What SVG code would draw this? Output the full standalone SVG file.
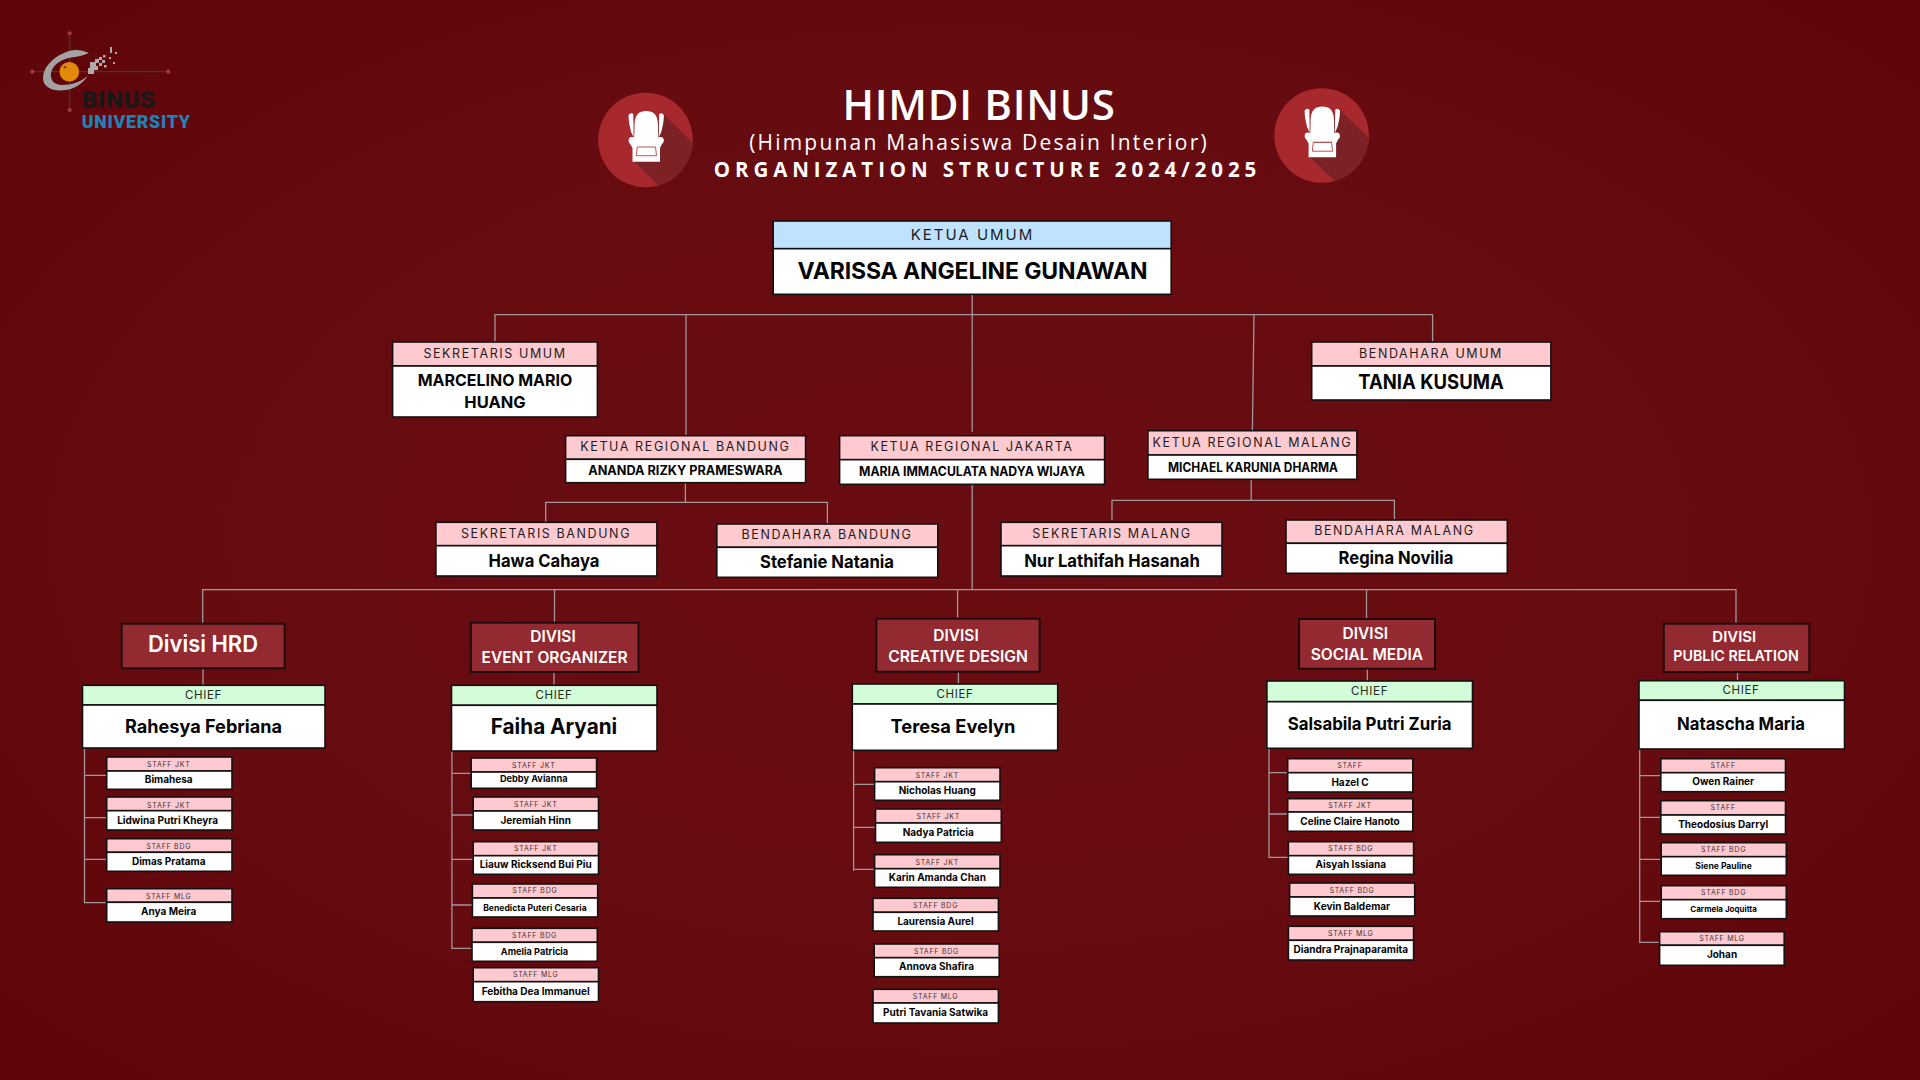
<svg xmlns="http://www.w3.org/2000/svg" width="1920" height="1080" viewBox="0 0 1920 1080">
<style>
text{font-family:Inter,"Noto Sans","Liberation Sans",sans-serif;text-anchor:middle}
.t{font-family:"Open Sans","Noto Sans",sans-serif;fill:#fff}
.h{stroke:#141010;stroke-width:1.6}
.p{fill:#ffc9d0}.g{fill:#d3fcd9}.b{fill:#bfe2ff}.w{fill:#fff}.d{fill:#942a31;stroke:#200a0c;stroke-width:2}
.l{fill:#1c1c1c;font-weight:400;font-size:12.5px;letter-spacing:1.6px}
.k{fill:#1c2a1c;font-weight:400;font-size:11.5px;letter-spacing:.7px}
.s{fill:#3c3032;font-weight:400;font-size:7px;letter-spacing:.75px}
.n{fill:#050505;font-weight:700}
.m{fill:#050505;font-weight:700;font-size:10px}
.v{fill:#fff;font-weight:600}
.c{fill:none;stroke:#a3979a;stroke-width:1.3}
.lg{font-family:Roboto,sans-serif;font-weight:900;text-anchor:start}
</style>
<defs>
<radialGradient id="bg" cx="50%" cy="50%" r="70%"><stop offset="0" stop-color="#690d12"/><stop offset=".6" stop-color="#660b10"/><stop offset="1" stop-color="#5e0509"/></radialGradient>
<clipPath id="cc"><circle r="47.3"/></clipPath>
<g id="seal">
<circle r="47.3" fill="#a7292e"/>
<polygon clip-path="url(#cc)" points="18,-26 72,27 72,72 40,72 -12,21" fill="#7c2226"/>
<g fill="#fff">
<path d="M-11,-14C-11,-26 -6,-29 .7,-29C7.5,-29 12.5,-26 12.5,-14C12.5,-6 13,0 13.5,6L-12,6C-11.5,0 -11,-6 -11,-14Z"/>
<path d="M-17,-25Q-14.5,-28 -12.3,-26Q-12,-20 -12,-10L-12,-3Q-15,-8 -16,-15Q-17,-20 -17,-25Z"/>
<path d="M18.4,-25Q15.9,-28 13.7,-26Q13.4,-20 13.4,-10L13.4,-3Q16.4,-8 17.4,-15Q18.4,-20 18.4,-25Z"/>
<circle cx="-13.5" cy=".5" r="3.4"/><circle cx="14.9" cy=".5" r="3.4"/>
<path d="M-16.5,2L-12,2L-10,6L11,6L13,2L17.5,2L14.5,8L14.5,21.7L-13,21.7L-13,8Z"/>
</g>
<path d="M-8.3,7L10,7L11,15.7L-9.3,15.7Z" fill="none" stroke="#a7292e" stroke-width=".8"/>
</g>
</defs>
<rect width="1920" height="1080" fill="url(#bg)"/>

<g id="logo">
<path d="M69.7,33.3V110M32.3,71.7H168.3" stroke="#4f3237" stroke-width="1.3" fill="none"/>
<g fill="#a23a3e"><circle cx="69.7" cy="33.3" r="2.1"/><circle cx="69.7" cy="110" r="2.1"/><circle cx="32.3" cy="71.7" r="2.1"/><circle cx="168.3" cy="71.7" r="2.1"/></g>
<path d="M89,53C80,49 72,49 64,53C52,58 43,68 43,78C43,88 54,92 66,90C74,89 82,84 88,76C80,82 72,85 62,85C54,85 50,80 51,73C53,63 64,58 75,57C80,56 85,55 89,53Z" fill="#a2a2a2"/>
<circle cx="69.3" cy="71.7" r="9.8" fill="#e38a0a"/><circle cx="65" cy="67.3" r="1.3" fill="#7a3a20"/>
<g fill="#b3a9aa"><rect x="88" y="68" width="6" height="6"/><rect x="90" y="62" width="6" height="6"/><rect x="94" y="66" width="4" height="4"/><rect x="95" y="59" width="4" height="4"/><rect x="99" y="63" width="3" height="3"/><rect x="99" y="57" width="3" height="3"/><rect x="102" y="60" width="3" height="3"/><rect x="103" y="55" width="2.5" height="2.5"/><rect x="104" y="65" width="2.5" height="2.5"/><rect x="109" y="57" width="2" height="2"/><rect x="110" y="47" width="2" height="6"/><rect x="115" y="52" width="2" height="2"/><rect x="113" y="62" width="2" height="2"/></g>
<text class="lg" x="81.7" y="108.3" font-size="24.5" fill="#1a1718" textLength="74">BINUS</text>
<text class="lg" x="81.7" y="127.7" font-size="17.8" fill="#1d84bb" textLength="108.3">UNIVERSITY</text>
</g>

<g id="header">
<use href="#seal" x="645.5" y="140"/>
<use href="#seal" x="1321.6" y="135.5"/>
<text class="t" x="979" y="120.3" font-size="42" font-weight="600" letter-spacing=".7">HIMDI BINUS</text>
<text class="t" x="979" y="150" font-size="21" font-weight="400" letter-spacing="2.2">(Himpunan Mahasiswa Desain Interior)</text>
<text class="t" x="987.5" y="176.7" font-size="20.5" font-weight="700" letter-spacing="4.9">ORGANIZATION STRUCTURE 2024/2025</text>
</g>

<g id="connectors" class="c">
<path d="M495,342V314.7H1432.6V342"/>
<path d="M972.2,294V431.7M972.2,482V590"/>
<path d="M686,315V435"/>
<path d="M1254,315L1252.4,430"/>
<path d="M685.4,483V502.3M545.7,522V502.3H827.4V524"/>
<path d="M1251.2,480V500.3M1112,520V500.3H1394.4V520"/>
<path d="M202.7,623V589.7H1736V623"/>
<path d="M554.5,590V622M957.6,590V618M1366.5,590V619"/>
<path d="M203,668V685M554,672V685M958.4,672V684M1367.3,669V681M1737.5,672V681"/>
<path d="M84.5,748V902.7H106M84.5,775.3H106M84.5,817.7H106M84.5,859.3H106"/>
<path d="M451.9,751V948.3H472M451.9,773.3H471M451.9,815H473M451.9,859.3H473M451.9,905H472"/>
<path d="M853.6,750V870.7M853.6,784.3H874M853.6,827.3H875M853.6,869.3H874"/>
<path d="M1269,748V857.3H1288M1269,772.7H1287M1269,814H1287"/>
<path d="M1639.7,749V942.3H1660M1639.7,775.7H1660M1639.7,817.3H1660M1639.7,859.3H1660M1639.7,901.3H1660"/>
</g>

<g id="ketua-umum">
<rect class="b h" x="773.2" y="221" width="398" height="27.7"/><rect class="w h" x="773.2" y="248.7" width="398" height="45.6"/>
<text class="l" x="972.5" y="240.3" style="font-size:15px;letter-spacing:2px">KETUA UMUM</text>
<text class="n" x="972.5" y="279" font-size="23" textLength="350">VARISSA ANGELINE GUNAWAN</text>
</g>
<g id="sekretaris-umum">
<rect class="p h" x="392.6" y="342" width="204.8" height="24"/><rect class="w h" x="392.6" y="366" width="204.8" height="51"/>
<text class="l" x="495" y="357.7">SEKRETARIS UMUM</text>
<text class="n" x="495" y="386" font-size="16.5" textLength="154.6" lengthAdjust="spacingAndGlyphs">MARCELINO MARIO</text>
<text class="n" x="495" y="407.6" font-size="16.5">HUANG</text>
</g>
<g id="bendahara-umum">
<rect class="p h" x="1311.7" y="342" width="239.2" height="24"/><rect class="w h" x="1311.7" y="366" width="239.2" height="34"/>
<text class="l" x="1431" y="357.7">BENDAHARA UMUM</text>
<text class="n" x="1431" y="388.7" font-size="20" textLength="145.4" lengthAdjust="spacingAndGlyphs">TANIA KUSUMA</text>
</g>
<g id="ketua-bandung">
<rect class="p h" x="565.6" y="435.7" width="240" height="23.6"/><rect class="w h" x="565.6" y="459.3" width="240" height="23.4"/>
<text class="l" x="685.4" y="450.7">KETUA REGIONAL BANDUNG</text>
<text class="n" x="685.4" y="475" font-size="12.6" textLength="194.4" lengthAdjust="spacingAndGlyphs">ANANDA RIZKY PRAMESWARA</text>
</g>
<g id="ketua-jakarta">
<rect class="p h" x="839.6" y="435.7" width="265" height="24"/><rect class="w h" x="839.6" y="459.7" width="265" height="24.6"/>
<text class="l" x="972" y="450.7">KETUA REGIONAL JAKARTA</text>
<text class="n" x="972" y="476" font-size="12.6" textLength="226" lengthAdjust="spacingAndGlyphs">MARIA IMMACULATA NADYA WIJAYA</text>
</g>
<g id="ketua-malang">
<rect class="p h" x="1147.9" y="430.7" width="209" height="24.3"/><rect class="w h" x="1147.9" y="455" width="209" height="24.3"/>
<text class="l" x="1252.4" y="446.7">KETUA REGIONAL MALANG</text>
<text class="n" x="1253" y="472" font-size="12.6" textLength="170" lengthAdjust="spacingAndGlyphs">MICHAEL KARUNIA DHARMA</text>
</g>
<g id="sekretaris-bandung">
<rect class="p h" x="435.9" y="522.3" width="221" height="23.4"/><rect class="w h" x="435.9" y="545.7" width="221" height="30.3"/>
<text class="l" x="546" y="538">SEKRETARIS BANDUNG</text>
<text class="n" x="544" y="567" font-size="17.5" textLength="111" lengthAdjust="spacingAndGlyphs">Hawa Cahaya</text>
</g>
<g id="bendahara-bandung">
<rect class="p h" x="716.8" y="524" width="221" height="23.3"/><rect class="w h" x="716.8" y="547.3" width="221" height="30"/>
<text class="l" x="827" y="539">BENDAHARA BANDUNG</text>
<text class="n" x="827" y="568" font-size="17.5" textLength="134" lengthAdjust="spacingAndGlyphs">Stefanie Natania</text>
</g>
<g id="sekretaris-malang">
<rect class="p h" x="1001" y="522.3" width="221" height="23.4"/><rect class="w h" x="1001" y="545.7" width="221" height="30.3"/>
<text class="l" x="1112" y="538">SEKRETARIS MALANG</text>
<text class="n" x="1112" y="567" font-size="17.5" textLength="175.7" lengthAdjust="spacingAndGlyphs">Nur Lathifah Hasanah</text>
</g>
<g id="bendahara-malang">
<rect class="p h" x="1286" y="520" width="221.3" height="23.3"/><rect class="w h" x="1286" y="543.3" width="221.3" height="30"/>
<text class="l" x="1394.4" y="535">BENDAHARA MALANG</text>
<text class="n" x="1396" y="564" font-size="17.5" textLength="114.8" lengthAdjust="spacingAndGlyphs">Regina Novilia</text>
</g>

<g id="divisi-hrd">
<rect class="d" x="121.7" y="623.7" width="162.9" height="44.6"/>
<text class="v" x="203" y="651.7" font-size="22.5" textLength="110" lengthAdjust="spacingAndGlyphs">Divisi HRD</text>
</g>
<g id="chief-hrd">
<rect class="g h" x="82.5" y="685.3" width="242.5" height="19.7"/><rect class="w h" x="82.5" y="705" width="242.5" height="43"/>
<text class="k" x="203.5" y="699">CHIEF</text>
<text class="n" x="203.5" y="732.7" font-size="18.5" textLength="157" lengthAdjust="spacingAndGlyphs">Rahesya Febriana</text>
</g>
<g id="s-bimahesa"><rect class="p h" x="106.7" y="757" width="125.3" height="14"/><rect class="w h" x="106.7" y="771" width="125.3" height="18.3"/><text class="s" x="168.7" y="767">STAFF JKT</text><text class="m" x="168.7" y="783">Bimahesa</text></g>
<g id="s-lidwina"><rect class="p h" x="106.7" y="797" width="125.3" height="13.7"/><rect class="w h" x="106.7" y="810.7" width="125.3" height="19.3"/><text class="s" x="168.7" y="807.5">STAFF JKT</text><text class="m" x="167.6" y="824">Lidwina Putri Kheyra</text></g>
<g id="s-dimas"><rect class="p h" x="106.7" y="838.7" width="125.3" height="13.6"/><rect class="w h" x="106.7" y="852.3" width="125.3" height="19"/><text class="s" x="168.7" y="848.7">STAFF BDG</text><text class="m" x="168.7" y="865">Dimas Pratama</text></g>
<g id="s-anya"><rect class="p h" x="106.7" y="888.7" width="125.3" height="13.6"/><rect class="w h" x="106.7" y="902.3" width="125.3" height="19.7"/><text class="s" x="168.7" y="898.5">STAFF MLG</text><text class="m" x="168.7" y="915">Anya Meira</text></g>

<g id="divisi-eo">
<rect class="d" x="470.8" y="622.7" width="167.7" height="49.3"/>
<text class="v" x="553" y="642" font-size="15.5">DIVISI</text><text class="v" x="554.5" y="663" font-size="15.5" textLength="146" lengthAdjust="spacingAndGlyphs">EVENT ORGANIZER</text>
</g>
<g id="chief-eo">
<rect class="g h" x="451.5" y="685.3" width="205.5" height="20"/><rect class="w h" x="451.5" y="705.3" width="205.5" height="45.7"/>
<text class="k" x="554" y="699">CHIEF</text>
<text class="n" x="554" y="734.3" font-size="21" textLength="126.5" lengthAdjust="spacingAndGlyphs">Faiha Aryani</text>
</g>
<g id="s-debby"><rect class="p h" x="471.2" y="758" width="125.4" height="14"/><rect class="w h" x="471.2" y="772" width="125.4" height="16.3"/><text class="s" x="533.7" y="767.7">STAFF JKT</text><text class="m" x="533.7" y="782.3" style="font-size:9.2px">Debby Avianna</text></g>
<g id="s-jeremiah"><rect class="p h" x="473.2" y="797" width="125.3" height="14"/><rect class="w h" x="473.2" y="811" width="125.3" height="19"/><text class="s" x="535.7" y="807">STAFF JKT</text><text class="m" x="535.7" y="824">Jeremiah Hinn</text></g>
<g id="s-liauw"><rect class="p h" x="473.2" y="841.7" width="125.3" height="14"/><rect class="w h" x="473.2" y="855.7" width="125.3" height="18.6"/><text class="s" x="535.7" y="851">STAFF JKT</text><text class="m" x="535.7" y="868">Liauw Ricksend Bui Piu</text></g>
<g id="s-benedicta"><rect class="p h" x="472.4" y="884" width="125.3" height="14"/><rect class="w h" x="472.4" y="898" width="125.3" height="19"/><text class="s" x="534.9" y="893">STAFF BDG</text><text class="m" x="534.9" y="911" style="font-size:8.6px">Benedicta Puteri Cesaria</text></g>
<g id="s-amelia"><rect class="p h" x="472" y="928.3" width="125.3" height="14"/><rect class="w h" x="472" y="942.3" width="125.3" height="19"/><text class="s" x="534.5" y="938">STAFF BDG</text><text class="m" x="534.5" y="955" style="font-size:9.2px">Amelia Patricia</text></g>
<g id="s-febitha"><rect class="p h" x="473.2" y="967.7" width="125.3" height="14"/><rect class="w h" x="473.2" y="981.7" width="125.3" height="20"/><text class="s" x="535.7" y="977">STAFF MLG</text><text class="m" x="535.7" y="994.7">Febitha Dea Immanuel</text></g>

<g id="divisi-cd">
<rect class="d" x="876.3" y="618.7" width="163.3" height="53"/>
<text class="v" x="956" y="641" font-size="15.5">DIVISI</text><text class="v" x="958" y="662" font-size="15.5" textLength="139.7" lengthAdjust="spacingAndGlyphs">CREATIVE DESIGN</text>
</g>
<g id="chief-cd">
<rect class="g h" x="852.3" y="684" width="205.4" height="20"/><rect class="w h" x="852.3" y="704" width="205.4" height="46.3"/>
<text class="k" x="955" y="698">CHIEF</text>
<text class="n" x="953" y="732.7" font-size="18.5" textLength="125" lengthAdjust="spacingAndGlyphs">Teresa Evelyn</text>
</g>
<g id="s-nicholas"><rect class="p h" x="874.6" y="767.7" width="125.4" height="14"/><rect class="w h" x="874.6" y="781.7" width="125.4" height="18.6"/><text class="s" x="937.3" y="777.5">STAFF JKT</text><text class="m" x="937.3" y="794">Nicholas Huang</text></g>
<g id="s-nadya"><rect class="p h" x="875.5" y="809" width="125.8" height="14"/><rect class="w h" x="875.5" y="823" width="125.8" height="19.3"/><text class="s" x="938.2" y="818.5">STAFF JKT</text><text class="m" x="938.2" y="836">Nadya Patricia</text></g>
<g id="s-karin"><rect class="p h" x="874.6" y="854.7" width="125.4" height="14"/><rect class="w h" x="874.6" y="868.7" width="125.4" height="18.6"/><text class="s" x="937.3" y="864.5">STAFF JKT</text><text class="m" x="937.3" y="881">Karin Amanda Chan</text></g>
<g id="s-laurensia"><rect class="p h" x="873" y="898.3" width="125.4" height="14"/><rect class="w h" x="873" y="912.3" width="125.4" height="18.7"/><text class="s" x="935.6" y="908">STAFF BDG</text><text class="m" x="935.6" y="925">Laurensia Aurel</text></g>
<g id="s-annova"><rect class="p h" x="874.2" y="944" width="125" height="13.7"/><rect class="w h" x="874.2" y="957.7" width="125" height="19"/><text class="s" x="936.5" y="953.5">STAFF BDG</text><text class="m" x="936.5" y="970">Annova Shafira</text></g>
<g id="s-putri"><rect class="p h" x="873" y="989.3" width="125.4" height="13.7"/><rect class="w h" x="873" y="1003" width="125.4" height="20"/><text class="s" x="935.6" y="999">STAFF MLG</text><text class="m" x="935.6" y="1016">Putri Tavania Satwika</text></g>

<g id="divisi-sm">
<rect class="d" x="1299" y="619" width="136" height="49.7"/>
<text class="v" x="1365.3" y="639" font-size="15.5">DIVISI</text><text class="v" x="1366.9" y="660" font-size="15.5" textLength="112.5" lengthAdjust="spacingAndGlyphs">SOCIAL MEDIA</text>
</g>
<g id="chief-sm">
<rect class="g h" x="1266.9" y="681" width="205.6" height="20.7"/><rect class="w h" x="1266.9" y="701.7" width="205.6" height="46.6"/>
<text class="k" x="1369.6" y="695">CHIEF</text>
<text class="n" x="1369.6" y="729.7" font-size="17.5" textLength="163.8" lengthAdjust="spacingAndGlyphs">Salsabila Putri Zuria</text>
</g>
<g id="s-hazel"><rect class="p h" x="1287.7" y="758.7" width="125.1" height="14"/><rect class="w h" x="1287.7" y="772.7" width="125.1" height="19.3"/><text class="s" x="1350" y="768">STAFF</text><text class="m" x="1350" y="786">Hazel C</text></g>
<g id="s-celine"><rect class="p h" x="1287.7" y="798.7" width="125.1" height="13.3"/><rect class="w h" x="1287.7" y="812" width="125.1" height="19.3"/><text class="s" x="1350" y="808">STAFF JKT</text><text class="m" x="1350" y="825">Celine Claire Hanoto</text></g>
<g id="s-aisyah"><rect class="p h" x="1288.4" y="841.7" width="125.2" height="14"/><rect class="w h" x="1288.4" y="855.7" width="125.2" height="18.6"/><text class="s" x="1350.8" y="851">STAFF BDG</text><text class="m" x="1350.8" y="868">Aisyah Issiana</text></g>
<g id="s-kevin"><rect class="p h" x="1289.6" y="883" width="125.1" height="14"/><rect class="w h" x="1289.6" y="897" width="125.1" height="19"/><text class="s" x="1352" y="893">STAFF BDG</text><text class="m" x="1352" y="910">Kevin Baldemar</text></g>
<g id="s-diandra"><rect class="p h" x="1288.4" y="926.3" width="125.2" height="14"/><rect class="w h" x="1288.4" y="940.3" width="125.2" height="19.7"/><text class="s" x="1350.8" y="936">STAFF MLG</text><text class="m" x="1350.8" y="953">Diandra Prajnaparamita</text></g>

<g id="divisi-pr">
<rect class="d" x="1663.8" y="623.7" width="145.5" height="48.3"/>
<text class="v" x="1734.3" y="642" font-size="15">DIVISI</text><text class="v" x="1736" y="661" font-size="15" textLength="125.5" lengthAdjust="spacingAndGlyphs">PUBLIC RELATION</text>
</g>
<g id="chief-pr">
<rect class="g h" x="1639" y="680.7" width="205.5" height="19.6"/><rect class="w h" x="1639" y="700.3" width="205.5" height="48.7"/>
<text class="k" x="1741" y="694">CHIEF</text>
<text class="n" x="1741" y="729.7" font-size="17.5" textLength="128" lengthAdjust="spacingAndGlyphs">Natascha Maria</text>
</g>
<g id="s-owen"><rect class="p h" x="1660.8" y="758.7" width="124.7" height="14"/><rect class="w h" x="1660.8" y="772.7" width="124.7" height="19"/><text class="s" x="1723.2" y="768">STAFF</text><text class="m" x="1723.2" y="785">Owen Rainer</text></g>
<g id="s-theodosius"><rect class="p h" x="1660.8" y="800.7" width="124.7" height="14.3"/><rect class="w h" x="1660.8" y="815" width="124.7" height="19"/><text class="s" x="1723.2" y="810">STAFF</text><text class="m" x="1723.2" y="828">Theodosius Darryl</text></g>
<g id="s-siene"><rect class="p h" x="1661.2" y="842.7" width="125.1" height="14"/><rect class="w h" x="1661.2" y="856.7" width="125.1" height="18.6"/><text class="s" x="1723.6" y="852">STAFF BDG</text><text class="m" x="1723.6" y="868.7" style="font-size:8.6px">Siene Pauline</text></g>
<g id="s-carmela"><rect class="p h" x="1661.2" y="885.7" width="125.1" height="14"/><rect class="w h" x="1661.2" y="899.7" width="125.1" height="19"/><text class="s" x="1723.6" y="895">STAFF BDG</text><text class="m" x="1723.6" y="912" style="font-size:8px">Carmela Joquitta</text></g>
<g id="s-johan"><rect class="p h" x="1659.6" y="931.7" width="124.6" height="13.6"/><rect class="w h" x="1659.6" y="945.3" width="124.6" height="20"/><text class="s" x="1722" y="941">STAFF MLG</text><text class="m" x="1722" y="958">Johan</text></g>
</svg>
